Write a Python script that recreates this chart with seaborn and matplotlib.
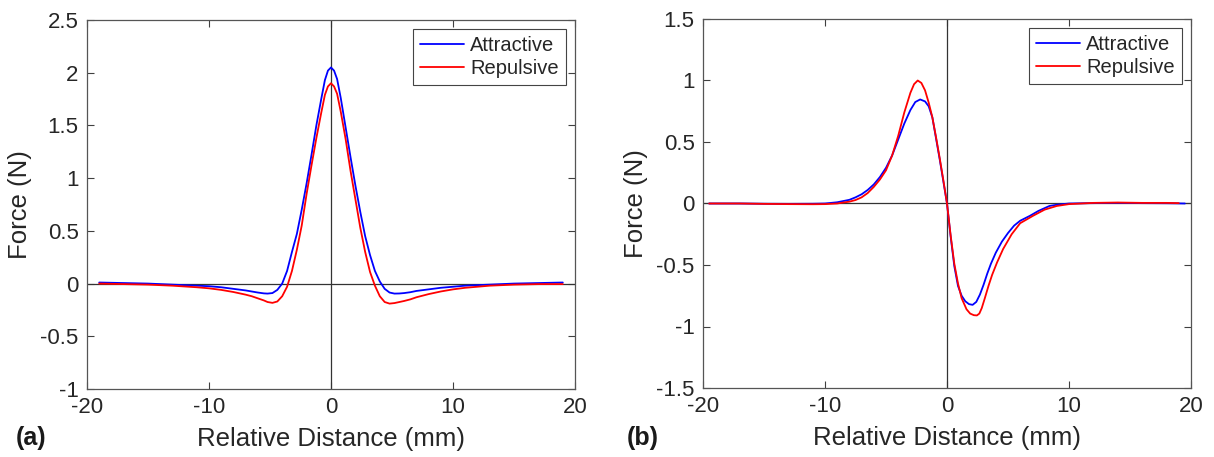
import matplotlib
matplotlib.use("Agg")
import matplotlib.pyplot as plt
import seaborn as sns
import pandas as pd

# ---------------- data: panel (a) ----------------
a_x_attr = [-19, -17, -15, -13, -11, -10, -9, -8, -7, -6.5, -6, -5.5, -5.2, -4.8, -4.4, -4.0,
            -3.6, -3.2, -2.8, -2.4, -2.0, -1.6, -1.2, -0.8, -0.5, -0.25, 0, 0.25, 0.5, 0.8, 1.2,
            1.6, 2.0, 2.4, 2.8, 3.2, 3.6, 4.0, 4.4, 4.8, 5.2, 5.6, 6, 6.5, 7, 8, 9, 10, 11, 13,
            15, 17, 19]
a_y_attr = [0.01, 0.005, 0.0, -0.01, -0.02, -0.025, -0.035, -0.05, -0.065, -0.075, -0.085, -0.093,
            -0.095, -0.09, -0.06, 0.0, 0.12, 0.3, 0.47, 0.7, 0.95, 1.22, 1.5, 1.75, 1.93, 2.02,
            2.05, 2.02, 1.94, 1.76, 1.48, 1.2, 0.93, 0.68, 0.45, 0.27, 0.12, 0.02, -0.05, -0.085,
            -0.095, -0.094, -0.09, -0.082, -0.07, -0.055, -0.04, -0.03, -0.02, -0.01, 0.0, 0.005,
            0.01]
a_x_rep = a_x_attr
a_y_rep = [0.0, -0.005, -0.01, -0.02, -0.035, -0.045, -0.06, -0.08, -0.105, -0.12, -0.14, -0.16,
           -0.175, -0.183, -0.17, -0.12, -0.03, 0.12, 0.32, 0.55, 0.85, 1.12, 1.38, 1.62, 1.79,
           1.87, 1.9, 1.87, 1.8, 1.63, 1.37, 1.07, 0.8, 0.53, 0.3, 0.11, -0.02, -0.12, -0.175,
           -0.19, -0.185, -0.175, -0.165, -0.15, -0.13, -0.1, -0.075, -0.055, -0.04, -0.02, -0.01,
           -0.005, -0.005]

# ---------------- data: panel (b) ----------------
b_x_attr = [-19.5, -17, -15, -13, -11, -10, -9, -8.5, -8, -7.5, -7, -6.5, -6, -5.5, -5, -4.5, -4,
            -3.5, -3, -2.6, -2.2, -1.8, -1.5, -1.2, -0.9, -0.6, -0.3, 0, 0.3, 0.6, 0.9, 1.2, 1.5,
            1.8, 2.1, 2.4, 2.7, 3.0, 3.3, 3.6, 4.0, 4.5, 5.0, 5.5, 6, 6.8, 7.5, 8.4, 9, 10, 12, 14,
            16, 18, 19.5]
b_y_attr = [0.0, 0.0, -0.002, -0.003, -0.002, 0.0, 0.01, 0.02, 0.03, 0.05, 0.075, 0.11, 0.155,
            0.215, 0.29, 0.39, 0.52, 0.65, 0.76, 0.825, 0.846, 0.83, 0.79, 0.7, 0.53, 0.36, 0.18,
            0.0, -0.27, -0.51, -0.67, -0.75, -0.795, -0.818, -0.824, -0.8, -0.74, -0.66, -0.57,
            -0.49, -0.4, -0.31, -0.24, -0.18, -0.14, -0.1, -0.06, -0.02, -0.01, 0.0, 0.003, 0.005,
            0.003, 0.002, 0.0]
b_x_rep = [-19.5, -17, -15, -13, -11, -10, -9, -8.5, -8, -7.5, -7, -6.5, -6, -5.5, -5, -4.5, -4,
           -3.5, -3, -2.7, -2.4, -2.1, -1.8, -1.5, -1.2, -0.9, -0.6, -0.3, 0, 0.3, 0.6, 0.9, 1.2,
           1.6, 1.9, 2.2, 2.45, 2.65, 2.85, 3.1, 3.4, 3.7, 4.1, 4.6, 5.3, 6, 7.05, 8, 9, 10, 12,
           14, 16, 18, 19]
b_y_rep = [0.0, 0.0, -0.003, -0.005, -0.006, -0.005, 0.0, 0.008, 0.015, 0.028, 0.05, 0.085, 0.135,
           0.195, 0.27, 0.39, 0.55, 0.74, 0.9, 0.97, 1.0, 0.98, 0.92, 0.82, 0.7, 0.54, 0.37, 0.19,
           0.0, -0.26, -0.49, -0.65, -0.77, -0.86, -0.895, -0.908, -0.91, -0.895, -0.85, -0.77,
           -0.67, -0.58, -0.48, -0.37, -0.25, -0.16, -0.1, -0.05, -0.02, -0.005, 0.005, 0.008,
           0.005, 0.005, 0.003]

series_names = ["Attractive", "Repulsive"]
series_colors = {"Attractive": "#0000FF", "Repulsive": "#FF0000"}
x_ticks = [-20, -10, 0, 10, 20]
a_yticks = [-1, -0.5, 0, 0.5, 1, 1.5, 2, 2.5]
b_yticks = [-1.5, -1, -0.5, 0, 0.5, 1, 1.5]
panel_labels = ["(a)", "(b)"]
xlabel = "Relative Distance (mm)"
ylabel = "Force (N)"


def make_df(xa, ya, xr, yr):
    return pd.concat([
        pd.DataFrame({"x": xa, "y": ya, "s": "Attractive"}),
        pd.DataFrame({"x": xr, "y": yr, "s": "Repulsive"}),
    ], ignore_index=True)


sns.set_theme(style="white")
plt.rcParams["font.family"] = ["Liberation Sans", "DejaVu Sans"]
plt.rcParams["xtick.direction"] = "in"
plt.rcParams["ytick.direction"] = "in"
plt.rcParams["text.color"] = "#262626"
plt.rcParams["axes.labelcolor"] = "#262626"

W, H = 1214, 457
fig = plt.figure(figsize=(W / 100, H / 100), dpi=100)
ax_a = fig.add_axes([87 / W, 1 - 389 / H, 488 / W, 369 / H])
ax_b = fig.add_axes([703 / W, 1 - 388 / H, 488 / W, 369 / H])

panels = [
    (ax_a, make_df(a_x_attr, a_y_attr, a_x_rep, a_y_rep), (-1, 2.5), a_yticks, 16 / W),
    (ax_b, make_df(b_x_attr, b_y_attr, b_x_rep, b_y_rep), (-1.5, 1.5), b_yticks, 627 / W),
]

for i, (ax, df, ylim, yticks, lx) in enumerate(panels):
    ax.axhline(0, color="#333333", lw=0.9, zorder=1)
    ax.axvline(0, color="#333333", lw=0.9, zorder=1)
    sns.lineplot(data=df, x="x", y="y", hue="s", hue_order=series_names,
                 palette=series_colors, sort=False, estimator=None,
                 lw=1.3, ax=ax, legend=False, zorder=3)
    ax.set_xlim(-20, 20)
    ax.set_ylim(*ylim)
    ax.set_xticks(x_ticks)
    ax.set_xticklabels([f"{t:g}" for t in x_ticks])
    ax.set_yticks(yticks)
    ax.set_yticklabels([f"{t:g}" for t in yticks])
    ax.tick_params(axis="both", which="both", direction="in", length=5, width=0.8,
                   labelsize=16, pad=6, color="#404040", labelcolor="#262626",
                   bottom=True, top=True, left=True, right=True)
    for sp in ax.spines.values():
        sp.set_color("#555555")
        sp.set_linewidth(0.9)
    ax.set_xlabel(xlabel, fontsize=18.5, labelpad=6)
    ax.set_ylabel(ylabel, fontsize=18.5, labelpad=6)
    handles = [plt.Line2D([], [], color=series_colors[n], lw=1.3) for n in series_names]
    leg = ax.legend(handles, series_names, loc="upper right", fontsize=14.5, frameon=True,
                    fancybox=False, framealpha=1, edgecolor="#444444", handlelength=2.2,
                    handletextpad=0.3, borderpad=0.35, labelspacing=0.2, borderaxespad=0.45)
    leg.get_frame().set_linewidth(0.8)
    fig.text(lx, 1 - 438 / H, panel_labels[i], fontsize=18, fontweight="bold",
             ha="left", va="center", color="#1a1a1a")

fig.savefig("out.png", dpi=100)
